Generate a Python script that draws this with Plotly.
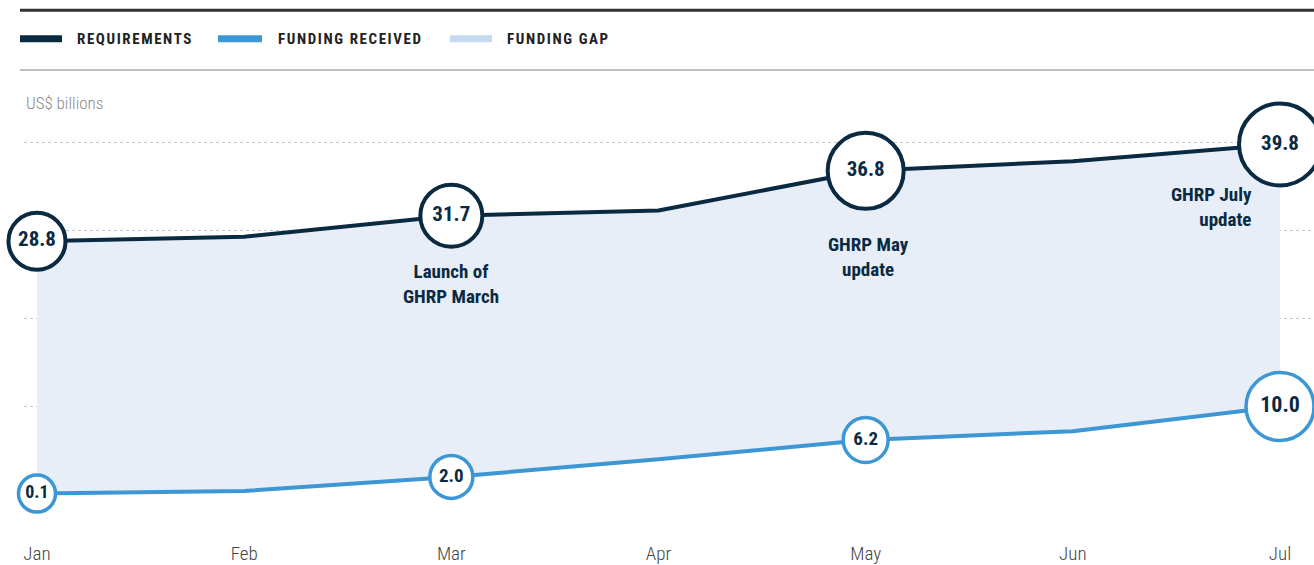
import plotly.graph_objects as go

months = ["Jan", "Feb", "Mar", "Apr", "May", "Jun", "Jul"]
requirements = [28.8, 29.3, 31.7, 32.3, 36.8, 37.9, 39.8]
funding_received = [0.1, 0.4, 2.0, 4.0, 6.2, 7.2, 10.0]
labeled_idx = [0, 2, 4, 6]
notes = {2: "Launch of<br>GHRP March", 4: "GHRP May<br>update", 6: "GHRP July<br>update"}
grid_vals = [10, 20, 30, 40]

# styles
NAVY = "#0a2a42"
BLUE = "#3d97d4"
FILL = "#e7eef8"
GAP = "#c5daf0"
COND = "Roboto Condensed, Liberation Sans Narrow, DejaVu Sans Condensed, Arial Narrow, sans-serif"
req_sizes = [57, 62, 76, 82]
fund_sizes = [37, 43, 45, 68]
fund_font = [18, 19, 19, 22]

x = list(range(len(months)))
fig = go.Figure()

fig.add_trace(go.Scatter(x=x, y=funding_received, mode="lines",
                         line=dict(color=BLUE, width=4), hoverinfo="skip", showlegend=False))
fig.add_trace(go.Scatter(x=x, y=requirements, mode="lines", fill="tonexty", fillcolor=FILL,
                         line=dict(color=NAVY, width=4), hoverinfo="skip", showlegend=False))

fig.add_trace(go.Scatter(
    x=[x[i] for i in labeled_idx], y=[funding_received[i] for i in labeled_idx],
    mode="markers+text", text=[f"{funding_received[i]:.1f}" for i in labeled_idx],
    textposition="middle center",
    textfont=dict(family=COND, size=fund_font, color=NAVY, weight="bold"),
    marker=dict(size=fund_sizes, color="white", opacity=1, line=dict(color=BLUE, width=3.5)),
    cliponaxis=False, showlegend=False, hoverinfo="skip"))

fig.add_trace(go.Scatter(
    x=[x[i] for i in labeled_idx], y=[requirements[i] for i in labeled_idx],
    mode="markers+text", text=[f"{requirements[i]:.1f}" for i in labeled_idx],
    textposition="middle center",
    textfont=dict(family=COND, size=21, color=NAVY, weight="bold"),
    marker=dict(size=req_sizes, color="white", opacity=1, line=dict(color=NAVY, width=4)),
    cliponaxis=False, showlegend=False, hoverinfo="skip"))

# notes under requirement circles
note_style = {2: dict(xanchor="center", xshift=0, yshift=-68),
              4: dict(xanchor="center", xshift=3, yshift=-86),
              6: dict(xanchor="right", xshift=-26, yshift=-63)}
for i, txt in notes.items():
    st = note_style[i]
    fig.add_annotation(x=x[i], y=requirements[i], text=txt, showarrow=False,
                       xanchor=st["xanchor"], yanchor="middle", xshift=st["xshift"], yshift=st["yshift"],
                       align="center" if st["xanchor"] == "center" else "right",
                       font=dict(family=COND, size=19, color=NAVY, weight="bold"))

# header rules and legend (paper coords; plot area spans px 24..1314, 80..535)
def px(p):
    return (p - 24) / 1290.0

def py(p):
    return (535 - p) / 455.0

fig.add_shape(type="line", xref="paper", yref="paper", x0=px(20), x1=px(1314), y0=py(10), y1=py(10),
              line=dict(color="#333333", width=3))
fig.add_shape(type="line", xref="paper", yref="paper", x0=px(20), x1=px(1314), y0=py(70), y1=py(70),
              line=dict(color="#aaaaaa", width=1.5))

legend_items = [("REQUIREMENTS", NAVY, 20, 62, 75),
                ("FUNDING RECEIVED", BLUE, 218, 262, 276),
                ("FUNDING GAP", GAP, 450, 492, 505)]
for label, col, s0, s1, tx in legend_items:
    fig.add_shape(type="rect", xref="paper", yref="paper", x0=px(s0), x1=px(s1), y0=py(42), y1=py(35),
                  line=dict(width=0), fillcolor=col)
    fig.add_annotation(xref="paper", yref="paper", x=px(tx), y=py(39),
                       text=f'<span style="letter-spacing:1.6px">{label}</span>', showarrow=False,
                       xanchor="left", yanchor="middle",
                       font=dict(family=COND, size=15, color="#222222", weight="bold"))

fig.add_annotation(xref="paper", yref="paper", x=px(24), y=py(103), text="US$ billions", showarrow=False,
                   xanchor="left", yanchor="middle",
                   font=dict(family=COND, size=17, color="#8a8a8a", weight=300))

fig.update_layout(
    width=1314, height=565,
    margin=dict(l=24, r=0, t=80, b=30),
    plot_bgcolor="white", paper_bgcolor="white",
    xaxis=dict(range=[-0.0627, 6.164], tickvals=x, ticktext=months, showgrid=False, zeroline=False,
               showline=False, ticks="", ticklabelstandoff=7,
               tickfont=dict(family=COND, size=19, color="#444444", weight=300)),
    yaxis=dict(range=[-4.38, 47.13], tickvals=grid_vals, showticklabels=False, showgrid=True,
               gridcolor="#c8c8c8", griddash="dot", gridwidth=1, zeroline=False, showline=False),
)

fig.write_html("out.html", config={"displayModeBar": False},
               post_script="document.body.style.margin='0';document.body.style.overflow='hidden';")
